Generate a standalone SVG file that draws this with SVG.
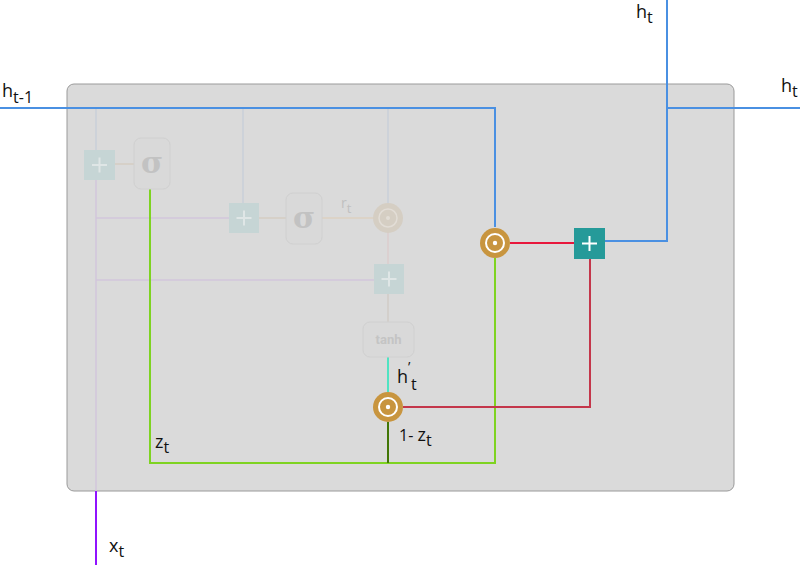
<svg xmlns="http://www.w3.org/2000/svg" width="800" height="565" viewBox="0 0 800 565">
<defs>
<style>
.t{font-family:"Open Sans","Noto Sans",sans-serif;fill:#111;}
.m{font-size:18px;}
.s{font-size:16px;}
.ln{fill:none;stroke-width:2;}
.faint{fill:none;stroke-width:1.5;}
.plusf{fill:#c6d5d5;}
.sig{fill:#d9d9d9;stroke:#d0d0d0;stroke-width:1;}
.sigt{font-family:"DejaVu Serif","Liberation Serif",serif;font-weight:bold;font-size:30px;fill:#c2c2c2;}
.mul{fill:#c8953f;}
.ring{fill:none;stroke:#fff;stroke-width:2;}
</style>
</defs>
<rect id="cell" x="67" y="84" width="667" height="407" rx="7" fill="#dadada" stroke="#9a9a9a" stroke-width="1"/>
<g id="connectors">
<line class="faint" x1="96" y1="108" x2="96" y2="150" stroke="#c9cfd9"/>
<line class="faint" x1="96" y1="180" x2="96" y2="491" stroke="#d2c6db"/>
<line class="faint" x1="115" y1="164" x2="134" y2="164" stroke="#d4ccc2"/>
<line class="faint" x1="243" y1="108" x2="243" y2="203" stroke="#c9cfd9"/>
<line class="faint" x1="96" y1="218" x2="229" y2="218" stroke="#d2c6db"/>
<line class="faint" x1="259" y1="218" x2="286" y2="218" stroke="#d4ccc2"/>
<line class="faint" x1="322" y1="218" x2="373" y2="218" stroke="#ddd0c0"/>
<line class="faint" x1="388" y1="108" x2="388" y2="203" stroke="#c9cfd9"/>
<line class="faint" x1="388" y1="233" x2="388" y2="264" stroke="#dbcccc"/>
<line class="faint" x1="96" y1="280" x2="375" y2="280" stroke="#d2c6db"/>
<line class="faint" x1="388" y1="294" x2="388" y2="322" stroke="#d0cbc6"/>
<polyline class="ln" points="0,108 495,108 495,227" stroke="#4a90e2"/>
<line class="ln" x1="96" y1="491" x2="96" y2="565" stroke="#9013fe"/>
<polyline class="ln" points="150,189 150,463 495,463 495,258" stroke="#7ed321"/>
<line class="ln" x1="388" y1="422" x2="388" y2="463" stroke="#417505"/>
<line class="ln" x1="388" y1="357" x2="388" y2="392" stroke="#50e3c2"/>
<polyline class="ln" points="403,407 590,407 590,259" stroke="#c4364a"/>
<line class="ln" x1="510" y1="243" x2="574" y2="243" stroke="#e8173c"/>
<polyline class="ln" points="605,241 667,241 667,0" stroke="#4a90e2"/>
<line class="ln" x1="667" y1="108" x2="800" y2="108" stroke="#4a90e2"/>
</g>
<g id="plus1"><rect class="plusf" x="84" y="150" width="31" height="30"/><path d="M92 165h15M99.5 157.5v15" stroke="#dfe6e6" stroke-width="2"/></g>
<g id="sigma1"><rect class="sig" x="134" y="138" width="36" height="51" rx="7"/><text class="sigt" x="152" y="173" text-anchor="middle">σ</text></g>
<g id="plus2"><rect class="plusf" x="229" y="203" width="30" height="30"/><path d="M236.5 218h15M244 210.5v15" stroke="#dfe6e6" stroke-width="2"/></g>
<g id="sigma2"><rect class="sig" x="286" y="193" width="36" height="51" rx="7"/><text class="sigt" x="304" y="228" text-anchor="middle">σ</text></g>
<g id="mulr"><circle cx="388" cy="218" r="15" fill="#d5cec3"/><circle cx="388" cy="218" r="9" fill="none" stroke="#e2ddd6" stroke-width="1.5"/><circle cx="388" cy="218" r="2" fill="#e2ddd6"/></g>
<g id="plus3"><rect class="plusf" x="374" y="264" width="30" height="30"/><path d="M381.5 279h15M389 271.5v15" stroke="#dfe6e6" stroke-width="2"/></g>
<g id="tanh"><rect class="sig" x="363" y="322" width="51" height="35" rx="7"/><text x="388.5" y="344" text-anchor="middle" font-family="Roboto,'Open Sans',sans-serif" font-weight="bold" font-size="13" fill="#c4c4c4">tanh</text></g>
<g id="mul1"><circle class="mul" cx="388" cy="407" r="15"/><circle class="ring" cx="388" cy="407" r="9"/><circle cx="388" cy="407" r="2.2" fill="#fff"/></g>
<g id="mul2"><circle class="mul" cx="495" cy="243" r="15"/><circle class="ring" cx="495" cy="243" r="9"/><circle cx="495" cy="243" r="2.2" fill="#fff"/></g>
<g id="plusout"><rect x="574" y="228" width="31" height="31" fill="#259a99"/><path d="M582 243.5h15M589.5 236v15" stroke="#fff" stroke-width="2"/></g>
<g id="labels">
<text class="t m" x="2" y="97">h<tspan class="s" dy="6">t-1</tspan></text>
<text class="t m" x="636" y="18">h<tspan class="s" dy="5">t</tspan></text>
<text class="t m" x="781" y="92">h<tspan class="s" dy="5">t</tspan></text>
<text class="t" x="341" y="208" font-size="14" style="fill:#c0c0c0">r<tspan font-size="13" dy="5">t</tspan></text>
<text class="t m" x="397" y="383">h<tspan class="s" dx="3" dy="7">t</tspan></text>
<text class="t" x="408" y="372" font-size="14">’</text>
<text class="t s" x="399" y="441">1- <tspan font-size="18">z</tspan><tspan dy="5">t</tspan></text>
<text class="t m" x="155" y="448">z<tspan class="s" dy="5">t</tspan></text>
<text class="t m" x="109" y="552">x<tspan class="s" dy="5">t</tspan></text>
</g>
</svg>
